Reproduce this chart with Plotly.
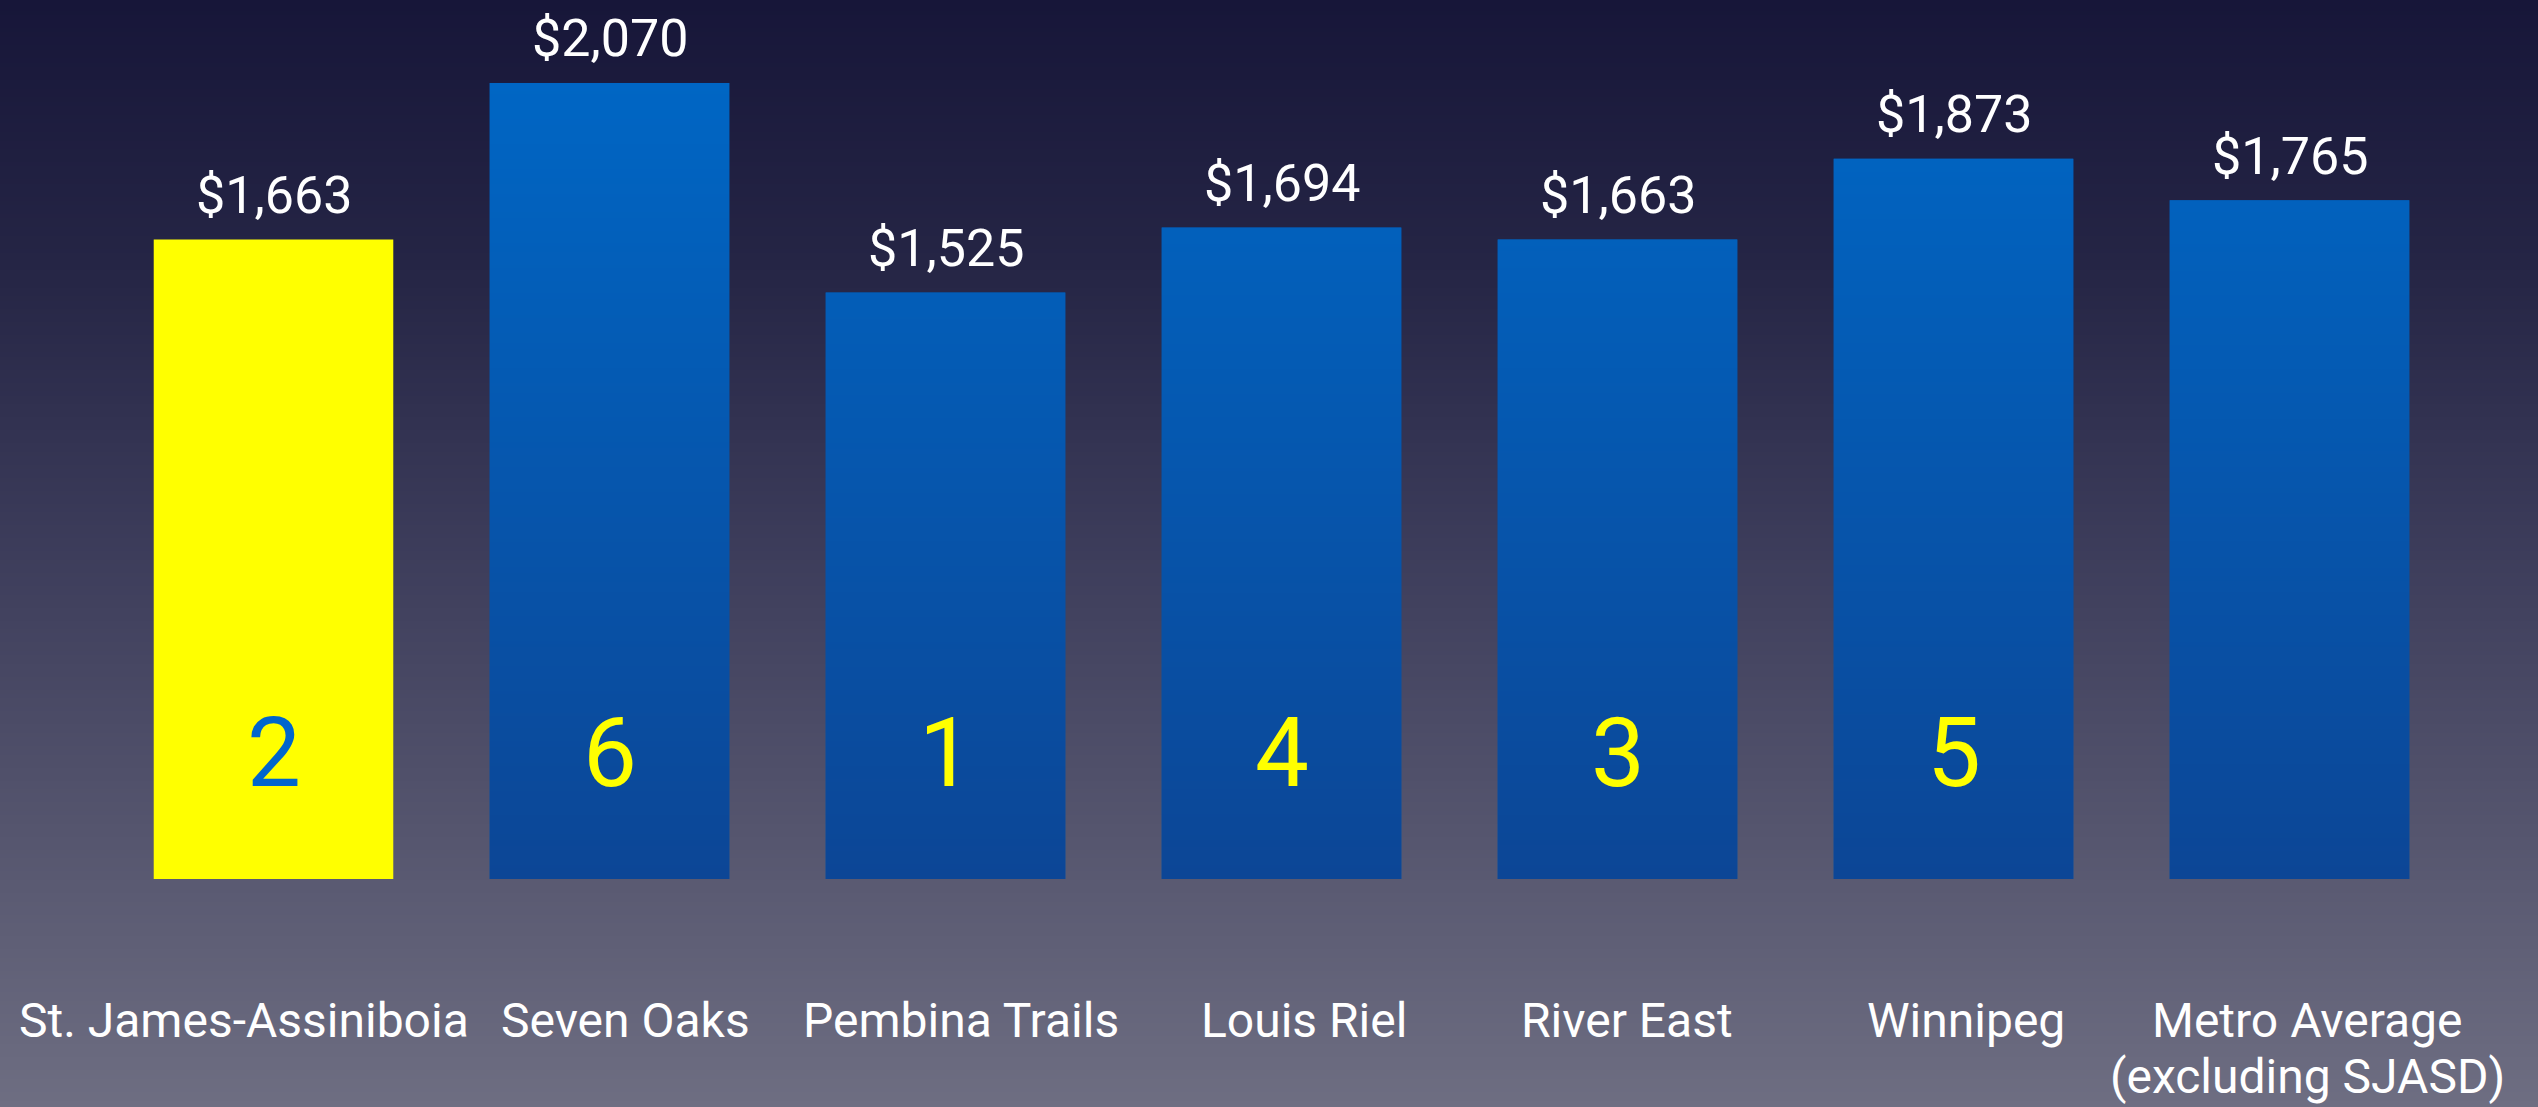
import base64
import struct
import zlib

import plotly.graph_objects as go

# ---------------- data ----------------
categories = ["St. James-Assiniboia", "Seven Oaks", "Pembina Trails", "Louis Riel",
              "River East", "Winnipeg", "Metro Average<br>(excluding SJASD)"]
values = [1663, 2070, 1525, 1694, 1663, 1873, 1765]
value_labels = ["$1,663", "$2,070", "$1,525", "$1,694", "$1,663", "$1,873", "$1,765"]
ranks = ["2", "6", "1", "4", "3", "5", ""]
highlight = [True, False, False, False, False, False, False]

# ---------------- styling ----------------
W, H = 2538, 1107
FONT = "Roboto"
YELLOW = "#FFFF00"
BLUE_TOP = (0, 102, 196)
BLUE_BOT = (12, 70, 150)
BG_STOPS = [(0.0, (23, 22, 57)), (0.25, (38, 38, 70)), (0.5, (61, 61, 91)),
            (0.75, (85, 85, 110)), (1.0, (110, 110, 130))]
label_dx = [-30, 16, 15, 22, 9, 12, 18]
PX_PER_UNIT = 0.38455
Y_BOTTOM_PX = 879
Y_TOP_PX = 10
Y_MAX = (Y_BOTTOM_PX - Y_TOP_PX) / PX_PER_UNIT
BARGAP = 0.287


def png_data_uri(rows):
    """rows: list of (r,g,b) for a 1-pixel-wide vertical image."""
    raw = b"".join(b"\x00" + bytes(c) for c in rows)
    def chunk(tag, data):
        c = struct.pack(">I", len(data)) + tag + data
        return c + struct.pack(">I", zlib.crc32(tag + data) & 0xFFFFFFFF)
    png = b"\x89PNG\r\n\x1a\n"
    png += chunk(b"IHDR", struct.pack(">IIBBBBB", 1, len(rows), 8, 2, 0, 0, 0))
    png += chunk(b"IDAT", zlib.compress(raw, 9))
    png += chunk(b"IEND", b"")
    return "data:image/png;base64," + base64.b64encode(png).decode()


def lerp(a, b, t):
    return tuple(int(round(a[i] + (b[i] - a[i]) * t)) for i in range(3))


def stops_color(stops, t):
    for (t0, c0), (t1, c1) in zip(stops, stops[1:]):
        if t <= t1:
            return lerp(c0, c1, (t - t0) / (t1 - t0) if t1 > t0 else 0)
    return stops[-1][1]


N = 256
bg_rows = [stops_color(BG_STOPS, i / (N - 1)) for i in range(N)]
vmax = max(values)


def bar_rows(v):
    rows = []
    for i in range(N):
        yv = v * (1 - i / (N - 1))          # data value at this row
        t = 1 - yv / vmax                  # 0 at tallest top, 1 at base
        rows.append(lerp(BLUE_TOP, BLUE_BOT, t))
    return rows


fig = go.Figure()
fig.add_trace(go.Bar(
    x=categories, y=values,
    marker=dict(color=[YELLOW if h else "#0557AE" for h in highlight], line=dict(width=0)),
    hoverinfo="skip",
))

images = [dict(source=png_data_uri(bg_rows), xref="paper", yref="paper", x=0, y=1,
               sizex=1, sizey=1, xanchor="left", yanchor="top", sizing="stretch",
               layer="below")]
for c, v, h in zip(categories, values, highlight):
    if h:
        continue
    images.append(dict(source=png_data_uri(bar_rows(v)), xref="x", yref="y", x=c, y=v,
                       sizex=1 - BARGAP, sizey=v, xanchor="center", yanchor="top",
                       sizing="stretch", layer="above"))

annotations = []
for c, v, lbl in zip(categories, values, value_labels):
    annotations.append(dict(x=c, y=v, xref="x", yref="y", text=lbl, showarrow=False,
                            yanchor="middle", yshift=44,
                            font=dict(family=FONT, size=52, color="white")))
for c, r, h in zip(categories, ranks, highlight):
    if not r:
        continue
    annotations.append(dict(x=c, y=0, xref="x", yref="y", text=r, showarrow=False,
                            yanchor="middle", yshift=126,
                            font=dict(family=FONT, size=96,
                                      color="#0066CC" if h else YELLOW)))
for c, dx in zip(categories, label_dx):
    for j, line in enumerate(c.split("<br>")):
        annotations.append(dict(x=c, y=0, xref="x", yref="y", text=line, showarrow=False,
                                yanchor="middle", yshift=-141 - 56 * j, xshift=dx,
                                borderpad=0,
                                font=dict(family=FONT, size=48, color="white")))

fig.update_layout(
    width=W, height=H, autosize=False,
    margin=dict(l=0, r=0, t=0, b=0, pad=0),
    paper_bgcolor="#3D3D5B", plot_bgcolor="rgba(0,0,0,0)",
    showlegend=False, bargap=BARGAP,
    xaxis=dict(domain=[105.5 / W, 2457.5 / W], range=[-0.5, len(categories) - 0.5],
               autorange=False, showticklabels=False, showgrid=False,
               zeroline=False, showline=False, ticks=""),
    yaxis=dict(domain=[1 - Y_BOTTOM_PX / H, 1 - Y_TOP_PX / H], range=[0, Y_MAX],
               autorange=False, showticklabels=False, showgrid=False, zeroline=False,
               showline=False),
    images=images, annotations=annotations,
)

fig.write_html(
    "out.html",
    config={"displayModeBar": False},
    post_script="document.body.style.margin='0';document.body.style.overflow='hidden';",
)
